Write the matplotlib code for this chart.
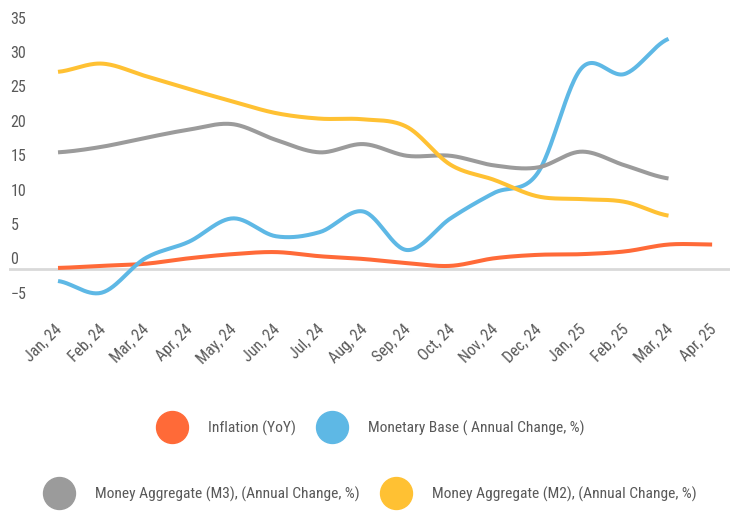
import numpy as np
import matplotlib
matplotlib.use("Agg")
import matplotlib.pyplot as plt
from matplotlib import font_manager
from matplotlib.lines import Line2D
from matplotlib.transforms import ScaledTranslation

months = ["Jan, 24", "Feb, 24", "Mar, 24", "Apr, 24", "May, 24", "Jun, 24",
          "Jul, 24", "Aug, 24", "Sep, 24", "Oct, 24", "Nov, 24", "Dec, 24",
          "Jan, 25", "Feb, 25", "Mar, 24", "Apr, 25"]

inflation = [0.2, 0.5, 0.8, 1.6, 2.2, 2.5, 1.9, 1.5, 0.9, 0.5, 1.6, 2.1, 2.2, 2.6, 3.6, 3.6]
monetary_base = [-1.7, -3.4, 1.6, 4.0, 7.4, 4.8, 5.4, 8.4, 2.8, 7.4, 11.1, 14.0, 29.2, 28.4, 33.5]
m3 = [17.0, 17.8, 19.1, 20.3, 21.1, 18.8, 17.0, 18.2, 16.5, 16.5, 15.1, 14.8, 17.1, 15.1, 13.2]
m2 = [28.7, 29.9, 28.1, 26.2, 24.4, 22.7, 21.9, 21.8, 20.7, 15.2, 13.0, 10.6, 10.2, 9.8, 7.8]

labels = ["Inflation (YoY)", "Monetary Base ( Annual Change, %)",
          "Money Aggregate (M3), (Annual Change, %)", "Money Aggregate (M2), (Annual Change, %)"]
colors = ["#FF6A38", "#5EB8E5", "#9B9B9B", "#FFC133"]

# pick a narrow font if one is around
names = {f.name for f in font_manager.fontManager.ttflist}
font = "DejaVu Sans"
for cand in ["Roboto Condensed", "Liberation Sans Narrow", "Open Sans Condensed"]:
    if cand in names:
        font = cand
        break
plt.rcParams["font.family"] = [font, "DejaVu Sans"]
txt = "#595959"


def smooth(vals, n=30):
    # cubic hermite (catmull-rom) path through the points, like excel smoothing
    y = np.asarray(vals, float)
    k = len(y)
    m = np.zeros(k)
    m[1:-1] = (y[2:] - y[:-2]) / 2
    m[0] = (y[1] - y[0]) / 2
    m[-1] = (y[-1] - y[-2]) / 2
    xs, ys = [], []
    t = np.linspace(0, 1, n, endpoint=False)
    for i in range(k - 1):
        h00 = 2 * t**3 - 3 * t**2 + 1
        h10 = t**3 - 2 * t**2 + t
        h01 = -2 * t**3 + 3 * t**2
        h11 = t**3 - t**2
        ys.append(h00 * y[i] + h10 * m[i] + h01 * y[i + 1] + h11 * m[i + 1])
        xs.append(i + t)
    xs.append([k - 1])
    ys.append([y[-1]])
    return np.concatenate(xs), np.concatenate(ys)


fig = plt.figure(figsize=(7.30, 5.11), dpi=100)
ax = fig.add_axes([9 / 730, 1 - 303.7 / 511, 721 / 730, 275.2 / 511])

ax.axhline(0, color="#D9D9D9", lw=2, zorder=1)
for series, c in zip([inflation, monetary_base, m3, m2], colors):
    sx, sy = smooth(series)
    ax.plot(sx, sy, color=c, lw=2.9, solid_capstyle="butt", zorder=3)

ax.set_xlim(-1.124, 15.41)
ax.set_ylim(-5, 35)
for s in ax.spines.values():
    s.set_visible(False)

ax.set_yticks(range(-5, 40, 5))
ax.set_xticks(range(len(months)))
ax.set_xticklabels(months, rotation=45, ha="right", va="top")
ax.tick_params(axis="y", length=0, pad=-1, labelsize=11.5, labelcolor=txt)
ax.tick_params(axis="x", length=0, pad=13, labelsize=11.5, labelcolor=txt)
for lbl in ax.get_yticklabels():
    lbl.set_ha("left")
    lbl.set_va("baseline")
    lbl.set_transform(lbl.get_transform() + ScaledTranslation(0, 0.048, fig.dpi_scale_trans))
for lbl in ax.get_xticklabels():
    lbl.set_transform(lbl.get_transform() + ScaledTranslation(0.07, 0, fig.dpi_scale_trans))

handles = [Line2D([], [], ls="none", marker="o", ms=23, color=c, mec=c) for c in colors]
for row, yy in [(slice(0, 2), 428), (slice(2, 4), 494)]:
    fig.legend(handles=handles[row], labels=labels[row], loc="center",
               bbox_to_anchor=(370 / 730, 1 - yy / 511), ncol=2, frameon=False,
               handlelength=2.05, handletextpad=1.3, columnspacing=1.3, borderpad=0,
               fontsize=11.15, labelcolor=txt)

fig.savefig("out.png", dpi=100)
